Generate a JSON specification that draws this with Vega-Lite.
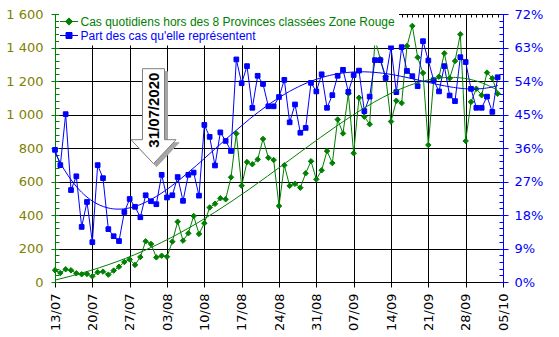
{
  "$schema": "https://vega.github.io/schema/vega-lite/v6.json",
  "width": 448,
  "height": 268,
  "autosize": "none",
  "padding": {"left": 55, "top": 14, "right": 56, "bottom": 55},
  "background": "white",
  "config": {
    "view": {"stroke": null},
    "axis": {"labelFont": "DejaVu Sans", "labelFontSize": 13, "title": null, "gridColor": "black", "gridOpacity": 1, "gridWidth": 1}
  },
  "datasets": {
    "series": [
      {"jour": 0, "date": "13/07", "cas": 70, "part": 0.355},
      {"jour": 1, "date": "14/07", "cas": 54, "part": 0.314},
      {"jour": 2, "date": "15/07", "cas": 76, "part": 0.451},
      {"jour": 3, "date": "16/07", "cas": 70, "part": 0.247},
      {"jour": 4, "date": "17/07", "cas": 52, "part": 0.284},
      {"jour": 5, "date": "18/07", "cas": 46, "part": 0.148},
      {"jour": 6, "date": "19/07", "cas": 48, "part": 0.215},
      {"jour": 7, "date": "20/07", "cas": 34, "part": 0.107},
      {"jour": 8, "date": "21/07", "cas": 58, "part": 0.314},
      {"jour": 9, "date": "22/07", "cas": 62, "part": 0.279},
      {"jour": 10, "date": "23/07", "cas": 44, "part": 0.142},
      {"jour": 11, "date": "24/07", "cas": 68, "part": 0.123},
      {"jour": 12, "date": "25/07", "cas": 91, "part": 0.110},
      {"jour": 13, "date": "26/07", "cas": 119, "part": 0.188},
      {"jour": 14, "date": "27/07", "cas": 135, "part": 0.223},
      {"jour": 15, "date": "28/07", "cas": 102, "part": 0.202},
      {"jour": 16, "date": "29/07", "cas": 149, "part": 0.174},
      {"jour": 17, "date": "30/07", "cas": 243, "part": 0.233},
      {"jour": 18, "date": "31/07", "cas": 227, "part": 0.217},
      {"jour": 19, "date": "01/08", "cas": 147, "part": 0.209},
      {"jour": 20, "date": "02/08", "cas": 157, "part": 0.288},
      {"jour": 21, "date": "03/08", "cas": 151, "part": 0.227},
      {"jour": 22, "date": "04/08", "cas": 241, "part": 0.233},
      {"jour": 23, "date": "05/08", "cas": 360, "part": 0.282},
      {"jour": 24, "date": "06/08", "cas": 247, "part": 0.218},
      {"jour": 25, "date": "07/08", "cas": 291, "part": 0.288},
      {"jour": 26, "date": "08/08", "cas": 394, "part": 0.294},
      {"jour": 27, "date": "09/08", "cas": 287, "part": 0.232},
      {"jour": 28, "date": "10/08", "cas": 351, "part": 0.422},
      {"jour": 29, "date": "11/08", "cas": 445, "part": 0.390},
      {"jour": 30, "date": "12/08", "cas": 467, "part": 0.313},
      {"jour": 31, "date": "13/08", "cas": 500, "part": 0.402},
      {"jour": 32, "date": "14/08", "cas": 494, "part": 0.379},
      {"jour": 33, "date": "15/08", "cas": 625, "part": 0.352},
      {"jour": 34, "date": "16/08", "cas": 886, "part": 0.598},
      {"jour": 35, "date": "17/08", "cas": 575, "part": 0.534},
      {"jour": 36, "date": "18/08", "cas": 716, "part": 0.580},
      {"jour": 37, "date": "19/08", "cas": 703, "part": 0.468},
      {"jour": 38, "date": "20/08", "cas": 732, "part": 0.554},
      {"jour": 39, "date": "21/08", "cas": 854, "part": 0.532},
      {"jour": 40, "date": "22/08", "cas": 742, "part": 0.472},
      {"jour": 41, "date": "23/08", "cas": 728, "part": 0.472},
      {"jour": 42, "date": "24/08", "cas": 454, "part": 0.497},
      {"jour": 43, "date": "25/08", "cas": 697, "part": 0.543},
      {"jour": 44, "date": "26/08", "cas": 574, "part": 0.429},
      {"jour": 45, "date": "27/08", "cas": 586, "part": 0.477},
      {"jour": 46, "date": "28/08", "cas": 563, "part": 0.401},
      {"jour": 47, "date": "29/08", "cas": 649, "part": 0.414},
      {"jour": 48, "date": "30/08", "cas": 721, "part": 0.535},
      {"jour": 49, "date": "31/08", "cas": 613, "part": 0.512},
      {"jour": 50, "date": "01/09", "cas": 667, "part": 0.558},
      {"jour": 51, "date": "02/09", "cas": 782, "part": 0.468},
      {"jour": 52, "date": "03/09", "cas": 710, "part": 0.502},
      {"jour": 53, "date": "04/09", "cas": 970, "part": 0.554},
      {"jour": 54, "date": "05/09", "cas": 887, "part": 0.570},
      {"jour": 55, "date": "06/09", "cas": 1125, "part": 0.511},
      {"jour": 56, "date": "07/09", "cas": 769, "part": 0.556},
      {"jour": 57, "date": "08/09", "cas": 1100, "part": 0.568},
      {"jour": 58, "date": "09/09", "cas": 987, "part": 0.459},
      {"jour": 59, "date": "10/09", "cas": 942, "part": 0.498},
      {"jour": 60, "date": "11/09", "cas": 1449, "part": 0.596},
      {"jour": 61, "date": "12/09", "cas": 1330, "part": 0.596},
      {"jour": 62, "date": "13/09", "cas": 1226, "part": 0.548},
      {"jour": 63, "date": "14/09", "cas": 958, "part": 0.631},
      {"jour": 64, "date": "15/09", "cas": 1082, "part": 0.510},
      {"jour": 65, "date": "16/09", "cas": 1068, "part": 0.631},
      {"jour": 66, "date": "17/09", "cas": 1409, "part": 0.567},
      {"jour": 67, "date": "18/09", "cas": 1529, "part": 0.553},
      {"jour": 68, "date": "19/09", "cas": 1341, "part": 0.526},
      {"jour": 69, "date": "20/09", "cas": 1248, "part": 0.647},
      {"jour": 70, "date": "21/09", "cas": 818, "part": 0.595},
      {"jour": 71, "date": "22/09", "cas": 1204, "part": 0.542},
      {"jour": 72, "date": "23/09", "cas": 1226, "part": 0.512},
      {"jour": 73, "date": "24/09", "cas": 1365, "part": 0.580},
      {"jour": 74, "date": "25/09", "cas": 1216, "part": 0.501},
      {"jour": 75, "date": "26/09", "cas": 1319, "part": 0.486},
      {"jour": 76, "date": "27/09", "cas": 1479, "part": 0.604},
      {"jour": 77, "date": "28/09", "cas": 842, "part": 0.591},
      {"jour": 78, "date": "29/09", "cas": 1075, "part": 0.519},
      {"jour": 79, "date": "30/09", "cas": 1154, "part": 0.468},
      {"jour": 80, "date": "01/10", "cas": 1115, "part": 0.468},
      {"jour": 81, "date": "02/10", "cas": 1250, "part": 0.498},
      {"jour": 82, "date": "03/10", "cas": 1216, "part": 0.457},
      {"jour": 83, "date": "04/10", "cas": 1124, "part": 0.550}
    ],
    "annotation": [
      {"jour": 18, "cas": 990, "label": "31/07/2020"}
    ]
  },
  "layer": [
    {
      "data": {"name": "series"},
      "mark": {"type": "line", "strokeWidth": 1, "point": {"shape": "diamond", "size": 30, "filled": true, "stroke": "#008000", "strokeWidth": 1}},
      "encoding": {
        "x": {"field": "jour", "type": "quantitative", "scale": {"domain": [0, 84], "nice": false, "zero": false},
          "axis": {"values": [0, 7, 14, 21, 28, 35, 42, 49, 56, 63, 70, 77, 84], "grid": true, "tickSize": 5, "tickColor": "black", "domainColor": "black", "labelColor": "black", "labelAngle": 270, "labelAlign": "right", "labelBaseline": "middle", "labelPadding": 6,
            "labelExpr": "timeFormat(datetime(2020, 6, 13 + datum.value), '%d/%m')"}},
        "y": {"field": "cas", "type": "quantitative", "scale": {"domain": [0, 1600], "nice": false, "zero": true},
          "axis": {"orient": "left", "values": [0, 200, 400, 600, 800, 1000, 1200, 1400, 1600], "grid": true, "tickSize": 4, "tickColor": "#008000", "domainColor": "#008000", "labelColor": "#808000", "labelPadding": 8,
            "labelExpr": "replace(format(datum.value, ','), ',', ' ')"}},
        "color": {"datum": "Cas quotidiens hors des 8 Provinces classées Zone Rouge", "type": "nominal",
          "scale": {"domain": ["Cas quotidiens hors des 8 Provinces classées Zone Rouge", "Part des cas qu'elle représentent"], "range": ["#008000", "#0000ff"]},
          "legend": {"title": null, "orient": "none", "legendX": 4, "legendY": -2.5, "fillColor": "white", "padding": 4, "labelFont": "Liberation Sans", "labelFontSize": 12, "labelOffset": 5.5, "rowPadding": 2, "symbolSize": 100, "labelLimit": 500,
            "encode": {
              "symbols": {"update": {
                "shape": {"signal": "indexof(datum.value, 'Cas') === 0 ? 'M-1.8,0H1.8M-0.72,0L0,-0.72L0.72,0L0,0.72Z' : 'M-1.8,0H1.8M-0.6,-0.6H0.6V0.6H-0.6Z'"},
                "fill": {"signal": "indexof(datum.value, 'Cas') === 0 ? '#008000' : '#0000ff'"},
                "stroke": {"signal": "indexof(datum.value, 'Cas') === 0 ? '#008000' : '#0000ff'"},
                "strokeWidth": {"value": 1}, "opacity": {"value": 1}, "fillOpacity": {"value": 1}, "strokeOpacity": {"value": 1}}},
              "labels": {"update": {"fill": {"signal": "indexof(datum.value, 'Cas') === 0 ? '#008000' : '#0000ff'"}}}
            }}}
      }
    },
    {
      "data": {"name": "series"},
      "mark": {"type": "line", "strokeWidth": 1, "point": {"shape": "square", "size": 22, "filled": true, "stroke": "#0000ff", "strokeWidth": 1}},
      "encoding": {
        "x": {"field": "jour", "type": "quantitative", "scale": {"domain": [0, 84], "nice": false, "zero": false},
          "axis": {"values": [0,1,2,3,4,5,6,7,8,9,10,11,12,13,14,15,16,17,18,19,20,21,22,23,24,25,26,27,28,29,30,31,32,33,34,35,36,37,38,39,40,41,42,43,44,45,46,47,48,49,50,51,52,53,54,55,56,57,58,59,60,61,62,63,64,65,66,67,68,69,70,71,72,73,74,75,76,77,78,79,80,81,82,83,84], "grid": false, "labels": false, "domain": false, "tickSize": -3, "tickColor": "black"}},
        "y": {"field": "part", "type": "quantitative", "scale": {"domain": [0, 0.72], "nice": false, "zero": true},
          "axis": {"orient": "right", "values": [0, 0.09, 0.18, 0.27, 0.36, 0.45, 0.54, 0.63, 0.72], "format": ".0%", "grid": false, "tickSize": 5, "tickColor": "#0000ff", "domainColor": "#0000ff", "labelColor": "#0000ff", "labelPadding": 6}},
        "color": {"datum": "Part des cas qu'elle représentent", "type": "nominal"}
      }
    },
    {
      "data": {"name": "series"},
      "transform": [{"regression": "cas", "on": "jour", "method": "poly", "order": 4}],
      "mark": {"type": "line", "strokeWidth": 1, "color": "#008000"},
      "encoding": {
        "x": {"field": "jour", "type": "quantitative", "scale": {"domain": [0, 84], "nice": false, "zero": false}, "axis": null},
        "y": {"field": "cas", "type": "quantitative", "scale": {"domain": [0, 1600], "nice": false, "zero": true},
          "axis": {"orient": "left", "values": [0,40,80,120,160,200,240,280,320,360,400,440,480,520,560,600,640,680,720,760,800,840,880,920,960,1000,1040,1080,1120,1160,1200,1240,1280,1320,1360,1400,1440,1480,1520,1560,1600], "grid": false, "labels": false, "domain": false, "tickSize": -4, "tickColor": "#008000"}}
      }
    },
    {
      "data": {"name": "series"},
      "transform": [{"regression": "part", "on": "jour", "method": "poly", "order": 4}],
      "mark": {"type": "line", "strokeWidth": 1, "color": "#0000ff"},
      "encoding": {
        "x": {"field": "jour", "type": "quantitative", "scale": {"domain": [0, 84], "nice": false, "zero": false}, "axis": null},
        "y": {"field": "part", "type": "quantitative", "scale": {"domain": [0, 0.72], "nice": false, "zero": true},
          "axis": {"orient": "right", "values": [0,0.018,0.036,0.054,0.072,0.09,0.108,0.126,0.144,0.162,0.18,0.198,0.216,0.234,0.252,0.27,0.288,0.306,0.324,0.342,0.36,0.378,0.396,0.414,0.432,0.45,0.468,0.486,0.504,0.522,0.54,0.558,0.576,0.594,0.612,0.63,0.648,0.666,0.684,0.702,0.72], "grid": false, "labels": false, "domain": false, "tickSize": -4, "tickColor": "#0000ff"}}
      }
    },
    {
      "data": {"name": "annotation"},
      "mark": {"type": "point", "shape": "M-0.232,-1L0.232,-1L0.232,0.495L0.474,0.495L0,1L-0.474,0.495L-0.232,0.495Z", "size": 9025, "filled": true, "fill": "#a6a6a6", "stroke": "#a6a6a6", "strokeWidth": 1, "opacity": 1, "xOffset": 5.5, "yOffset": 3},
      "encoding": {
        "x": {"field": "jour", "type": "quantitative", "scale": {"domain": [0, 84], "nice": false, "zero": false}, "axis": null},
        "y": {"field": "cas", "type": "quantitative", "scale": {"domain": [0, 1600], "nice": false, "zero": true}, "axis": null}
      }
    },
    {
      "data": {"name": "annotation"},
      "mark": {"type": "point", "shape": "M-0.232,-1L0.232,-1L0.232,0.495L0.474,0.495L0,1L-0.474,0.495L-0.232,0.495Z", "size": 9025, "filled": true, "fill": "white", "stroke": "#7f7f7f", "strokeWidth": 1, "opacity": 1, "xOffset": 2.5},
      "encoding": {
        "x": {"field": "jour", "type": "quantitative", "scale": {"domain": [0, 84], "nice": false, "zero": false}, "axis": null},
        "y": {"field": "cas", "type": "quantitative", "scale": {"domain": [0, 1600], "nice": false, "zero": true}, "axis": null}
      }
    },
    {
      "data": {"name": "annotation"},
      "mark": {"type": "text", "angle": 270, "align": "center", "baseline": "middle", "font": "Liberation Sans", "fontSize": 15, "fontWeight": "bold", "color": "black", "xOffset": 3, "yOffset": -6},
      "encoding": {
        "x": {"field": "jour", "type": "quantitative", "scale": {"domain": [0, 84], "nice": false, "zero": false}, "axis": null},
        "y": {"field": "cas", "type": "quantitative", "scale": {"domain": [0, 1600], "nice": false, "zero": true}, "axis": null},
        "text": {"field": "label", "type": "nominal"}
      }
    }
  ],
  "resolve": {"scale": {"y": "independent"}, "axis": {"x": "independent"}}
}
